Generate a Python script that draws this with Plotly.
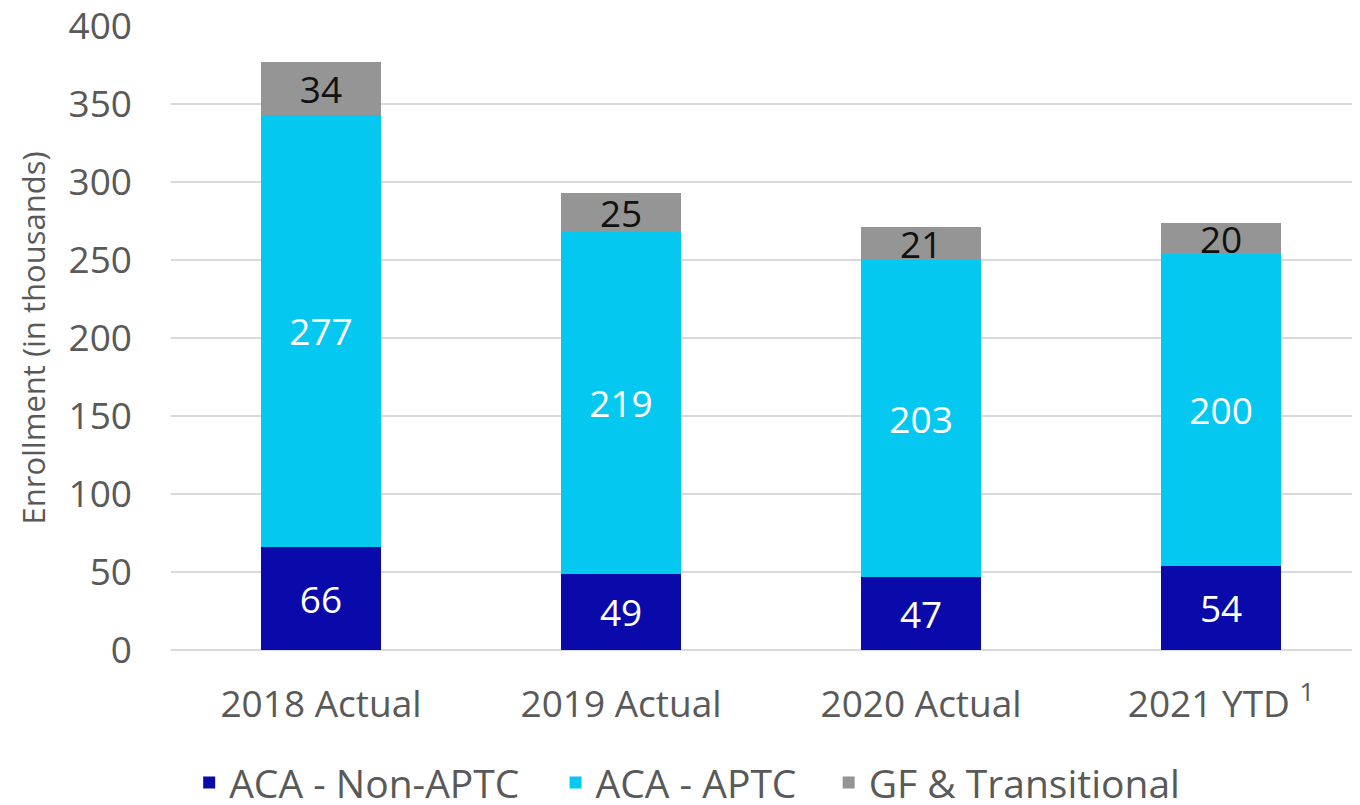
import plotly.graph_objects as go

categories = ["2018 Actual", "2019 Actual", "2020 Actual", "2021 YTD <sup>1</sup>"]
non_aptc = [66, 49, 47, 54]
aptc = [277, 219, 203, 200]
gf_transitional = [34, 25, 21, 20]

series = [
    ("ACA - Non-APTC", non_aptc, "#0A0AAA", "white", "legend"),
    ("ACA - APTC", aptc, "#05C8F0", "white", "legend2"),
    ("GF & Transitional", gf_transitional, "#959595", "#111111", "legend3"),
]
legend_x = {"legend": 0.134, "legend2": 0.405, "legend3": 0.607}

FONT = "Open Sans"
FS = 37
fig = go.Figure()
for name, vals, color, tcolor, lg in series:
    fig.add_trace(go.Bar(
        name=name, x=categories, y=vals,
        marker=dict(color=color, line=dict(width=0)),
        text=[str(v) for v in vals], textposition="inside",
        insidetextanchor="middle", textangle=0,
        textfont=dict(family=FONT, size=FS, color=tcolor),
        width=0.4, legend=lg,
    ))

legend_common = dict(orientation="h", xref="container", xanchor="left",
                     yref="container", y=0.028, yanchor="middle",
                     font=dict(family=FONT, size=39, color="#595959"))

fig.update_layout(
    barmode="stack",
    width=1352, height=797,
    margin=dict(l=163, r=0, t=18, b=155, autoexpand=False),
    paper_bgcolor="white", plot_bgcolor="white",
    font=dict(family=FONT, color="#595959"),
    uniformtext=dict(mode="show", minsize=FS),
    showlegend=True,
    legend=dict(x=legend_x["legend"], **legend_common),
    legend2=dict(x=legend_x["legend2"], **legend_common),
    legend3=dict(x=legend_x["legend3"], **legend_common),
    xaxis=dict(range=[-0.5, 3.463], showgrid=False, showline=False, ticks="",
               automargin=False, ticklabelstandoff=29,
               tickfont=dict(family=FONT, size=FS, color="#595959")),
    yaxis=dict(range=[0, 400], dtick=50, showgrid=True, gridcolor="#d9d9d9", gridwidth=2,
               zeroline=True, zerolinecolor="#d9d9d9", zerolinewidth=2,
               showline=False, ticks="", ticklabelstandoff=38, automargin=False,
               ticklabeloverflow="allow",
               tickfont=dict(family=FONT, size=FS, color="#595959"),
               title=dict(text="Enrollment (in thousands)", standoff=13,
                          font=dict(family=FONT, size=31, color="#595959"))),
)

fig.write_html("out.html")
